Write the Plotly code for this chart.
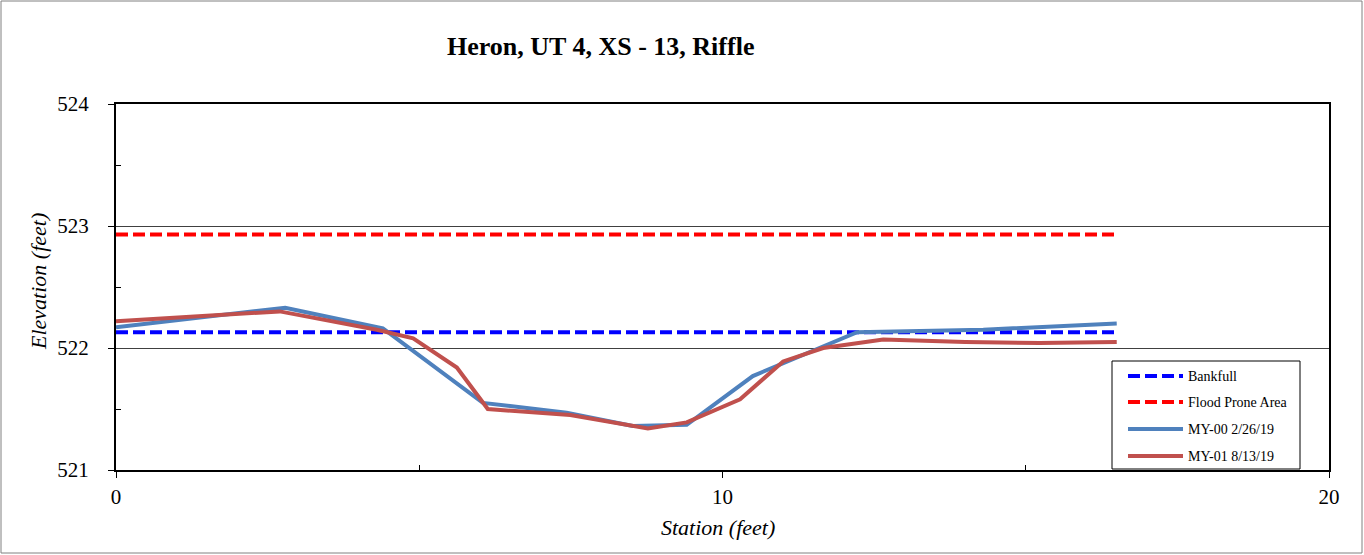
import plotly.graph_objects as go

# Survey data: station (ft) vs elevation (ft)
my00_station = [0.0, 2.79, 4.40, 6.05, 7.43, 8.52, 9.41, 10.50, 12.22, 14.3, 16.5]
my00_elev = [522.17, 522.33, 522.16, 521.55, 521.47, 521.36, 521.37, 521.77, 522.13, 522.15, 522.20]

my01_station = [0.0, 2.70, 4.30, 4.90, 5.62, 6.13, 7.49, 8.77, 9.41, 10.29, 11.0, 11.66, 12.65, 14.0, 15.23, 16.5]
my01_elev = [522.22, 522.30, 522.15, 522.08, 521.84, 521.50, 521.45, 521.34, 521.39, 521.58, 521.89, 522.00, 522.07, 522.05, 522.04, 522.05]

bankfull_station = [0.0, 16.5]
bankfull_elev = [522.13, 522.13]

flood_station = [0.0, 16.5]
flood_elev = [522.93, 522.93]

x_ticks = [0, 10, 20]
y_ticks = [521, 522, 523, 524]

series_names = ["Bankfull", "Flood Prone Area", "MY-00 2/26/19", "MY-01 8/13/19"]
series_colors = ["#0000FF", "#FF0000", "#4F81BD", "#C0504D"]
series_dash = ["12px,5px", "12px,5px", "solid", "solid"]

FONT = "Liberation Serif, Times New Roman, serif"

# plot area geometry (pixels) used to place the boxed legend in paper coordinates
W, H = 1364, 555
L, R, T, B = 116, 35, 104, 85
PW, PH = W - L - R, H - T - B


def px_x(p):
    return (p - L) / PW


def px_y(p):
    return (H - B - p) / PH


fig = go.Figure()
series = [
    (bankfull_station, bankfull_elev),
    (flood_station, flood_elev),
    (my00_station, my00_elev),
    (my01_station, my01_elev),
]
for (xs, ys), name, color, dash in zip(series, series_names, series_colors, series_dash):
    fig.add_trace(go.Scatter(x=xs, y=ys, mode="lines", name=name, showlegend=False,
                             line=dict(color=color, width=4, dash=dash)))

shapes = [
    # outer chart border
    dict(type="rect", xref="paper", yref="paper",
         x0=px_x(1), x1=px_x(1362), y0=px_y(553), y1=px_y(1),
         line=dict(color="#808080", width=1), fillcolor="rgba(0,0,0,0)", layer="below"),
    # legend box
    dict(type="rect", xref="paper", yref="paper",
         x0=px_x(1112), x1=px_x(1300), y0=px_y(469), y1=px_y(361),
         line=dict(color="black", width=1), fillcolor="white", layer="above"),
]
annotations = [
    dict(text="<b>Heron, UT 4, XS - 13, Riffle</b>", xref="paper", yref="paper",
         x=px_x(600), y=px_y(47), xanchor="center", yanchor="middle", showarrow=False,
         font=dict(family=FONT, size=26, color="black")),
    dict(text="<i>Elevation (feet)</i>", xref="paper", yref="paper",
         x=px_x(38), y=px_y(282), xanchor="center", yanchor="middle", showarrow=False,
         textangle=-90, font=dict(family=FONT, size=22, color="black")),
    dict(text="<i>Station (feet)</i>", xref="paper", yref="paper",
         x=px_x(718), y=px_y(527), xanchor="center", yanchor="middle", showarrow=False,
         font=dict(family=FONT, size=22, color="black")),
]

legend_rows = [376, 402, 429, 456]
for row, name, color, dash in zip(legend_rows, series_names, series_colors, series_dash):
    shapes.append(dict(type="line", xref="paper", yref="paper",
                       x0=px_x(1128), x1=px_x(1183), y0=px_y(row), y1=px_y(row),
                       line=dict(color=color, width=4, dash=dash), layer="above"))
    annotations.append(dict(text=name, xref="paper", yref="paper",
                            x=px_x(1186), y=px_y(row), xanchor="left", yanchor="middle",
                            showarrow=False, font=dict(family=FONT, size=14, color="black")))

fig.update_layout(
    width=W, height=H,
    margin=dict(l=L, r=R, t=T, b=B),
    paper_bgcolor="white", plot_bgcolor="white",
    font=dict(family=FONT, color="black"),
    showlegend=False,
    xaxis=dict(range=[0, 20], tickvals=x_ticks, ticks="outside", ticklen=6,
               tickcolor="black", showgrid=False, zeroline=False,
               showline=True, linecolor="black", linewidth=2, mirror=True,
               ticklabelstandoff=1,
               tickfont=dict(family=FONT, size=21, color="black"),
               minor=dict(tickvals=[5, 15], ticks="inside", ticklen=5, tickcolor="black", showgrid=False)),
    yaxis=dict(range=[521, 524], tickvals=y_ticks, ticks="outside", ticklen=6,
               tickcolor="black", showgrid=True, gridcolor="#404040", gridwidth=1,
               zeroline=False,
               showline=True, linecolor="black", linewidth=2, mirror=True,
               ticklabelstandoff=15,
               tickfont=dict(family=FONT, size=21, color="black"),
               minor=dict(tickvals=[521.5, 522.5, 523.5], ticks="inside", ticklen=5, tickcolor="black", showgrid=False)),
    annotations=annotations,
    shapes=shapes,
)

fig.write_html("out.html")
